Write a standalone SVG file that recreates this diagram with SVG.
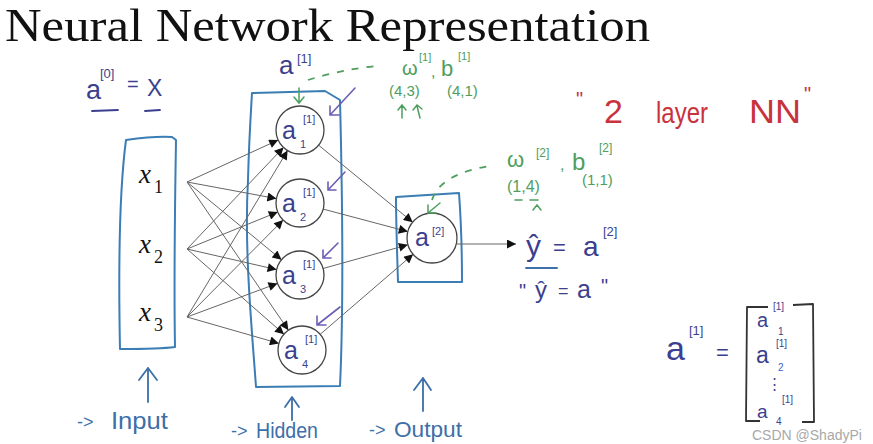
<svg xmlns="http://www.w3.org/2000/svg" width="873" height="444" viewBox="0 0 873 444">
<defs>
<style>
.box{fill:none;stroke:#3b7db5;stroke-width:2;stroke-linejoin:round}
.nd{fill:#fff;stroke:#444;stroke-width:1.3}
.ln{stroke:#666;stroke-width:1;fill:none}
.hw{font-family:"Liberation Sans",Arial,sans-serif;fill:#3c3f8f}
.gr{font-family:"Liberation Sans",Arial,sans-serif;fill:#4e9e5e}
.rd{font-family:"Liberation Sans",Arial,sans-serif;fill:#c8323c}
.bl{font-family:"Liberation Sans",Arial,sans-serif;fill:#3d6fa8}
.xs{font-family:"Liberation Serif","Times New Roman",serif;fill:#111}
.pa{stroke:#6a5fb5;stroke-width:1.6;fill:none;stroke-linecap:round}
.ga{stroke:#4e9e5e;stroke-width:1.5;fill:none;stroke-linecap:round}
.ba{stroke:#3d6fa8;stroke-width:1.8;fill:none;stroke-linecap:round;stroke-linejoin:round}
.dash{stroke:#4e9e5e;stroke-width:1.8;fill:none;stroke-dasharray:7 8}
</style>
<marker id="ah" viewBox="0 0 10 10" refX="10" refY="5" markerWidth="11" markerHeight="9" markerUnits="userSpaceOnUse" orient="auto"><path d="M0,0 L10,5 L0,10 Z" fill="#111"/></marker>
</defs>
<rect width="873" height="444" fill="#fff"/>

<text x="5" y="41" font-family="Liberation Serif,'Times New Roman',serif" font-size="46" fill="#111" textLength="645" lengthAdjust="spacingAndGlyphs">Neural Network Representation</text>

<g id="input-box">
<path class="box" d="M126,140 C140,138 160,136 172,137 L176,140 C175,200 174,290 175,347 C160,349 140,349 120,349 C119,300 118,200 126,140 Z"/>
</g>
<g id="x1"><text class="xs" font-size="27" font-style="italic" x="139" y="183">x<tspan font-size="18" font-style="normal" x="154" y="193">1</tspan></text></g>
<g id="x2"><text class="xs" font-size="27" font-style="italic" x="139" y="253">x<tspan font-size="18" font-style="normal" x="154" y="263">2</tspan></text></g>
<g id="x3"><text class="xs" font-size="27" font-style="italic" x="139" y="321">x<tspan font-size="18" font-style="normal" x="154" y="331">3</tspan></text></g>

<g id="hidden-box">
<path class="box" d="M252,93 L325,91 L340,100 C342,180 344,300 340,386 L256,387 C252,330 244,250 248,180 C249,140 251,110 252,93 Z"/>
</g>

<g id="output-box">
<path class="box" d="M396,197 L459,193 C461,220 462,260 462,282 L398,282 C397,250 396,220 396,197 Z"/>
</g>

<g id="connectors">
<line class="ln" x1="187" y1="182" x2="278.2" y2="140" marker-end="url(#ah)"/>
<line class="ln" x1="187" y1="249" x2="283.5" y2="147.4" marker-end="url(#ah)"/>
<line class="ln" x1="187" y1="317" x2="287.6" y2="150.5" marker-end="url(#ah)"/>
<line class="ln" x1="187" y1="182" x2="276.4" y2="198.6" marker-end="url(#ah)"/>
<line class="ln" x1="187" y1="249" x2="277.8" y2="212" marker-end="url(#ah)"/>
<line class="ln" x1="187" y1="317" x2="283.1" y2="220" marker-end="url(#ah)"/>
<line class="ln" x1="187" y1="182" x2="281.5" y2="259.7" marker-end="url(#ah)"/>
<line class="ln" x1="187" y1="249" x2="276.6" y2="269.6" marker-end="url(#ah)"/>
<line class="ln" x1="187" y1="317" x2="277.5" y2="283.4" marker-end="url(#ah)"/>
<line class="ln" x1="187" y1="182" x2="288.4" y2="330.2" marker-end="url(#ah)"/>
<line class="ln" x1="187" y1="249" x2="284" y2="334.2" marker-end="url(#ah)"/>
<line class="ln" x1="187" y1="317" x2="278.9" y2="343.4" marker-end="url(#ah)"/>
<line class="ln" x1="318.6" y1="145.2" x2="412.7" y2="222.2" marker-end="url(#ah)"/>
<line class="ln" x1="323.2" y1="209.1" x2="407.8" y2="231.6" marker-end="url(#ah)"/>
<line class="ln" x1="323.1" y1="268.5" x2="407.9" y2="244.8" marker-end="url(#ah)"/>
<line class="ln" x1="320.2" y1="334.3" x2="413.1" y2="254.3" marker-end="url(#ah)"/>
<line class="ln" x1="457" y1="244" x2="516" y2="244" marker-end="url(#ah)"/>
</g>

<g id="h1"><circle class="nd" cx="300" cy="130" r="24"/><text class="hw" font-size="25" x="282" y="139">a<tspan font-size="11" x="303" y="123">[1]</tspan><tspan font-size="11" x="300" y="148">1</tspan></text></g>
<g id="h2"><circle class="nd" cx="300" cy="203" r="24"/><text class="hw" font-size="25" x="282" y="212">a<tspan font-size="11" x="303" y="196">[1]</tspan><tspan font-size="11" x="300" y="221">2</tspan></text></g>
<g id="h3"><circle class="nd" cx="300" cy="275" r="24"/><text class="hw" font-size="25" x="282" y="284">a<tspan font-size="11" x="303" y="268">[1]</tspan><tspan font-size="11" x="300" y="293">3</tspan></text></g>
<g id="h4"><circle class="nd" cx="302" cy="350" r="24"/><text class="hw" font-size="25" x="284" y="359">a<tspan font-size="11" x="305" y="343">[1]</tspan><tspan font-size="11" x="302" y="368">4</tspan></text></g>
<g id="out"><circle class="nd" cx="432" cy="238" r="25"/><text class="hw" font-size="25" x="415" y="246">a<tspan font-size="11" x="432" y="235">[2]</tspan></text></g>

<g id="a0-eq">
<text class="hw" font-size="27" x="86" y="99">a<tspan font-size="13" x="100" y="78">[0]</tspan><tspan font-size="20" x="127" y="91">=</tspan><tspan font-size="23" x="147" y="96">X</tspan></text>
<path d="M92,111 L118,110 M145,111 L160,110" fill="none" stroke="#3c3f8f" stroke-width="1.8" stroke-linecap="round"/>
</g>

<g id="a1-label">
<text class="hw" font-size="26" x="279" y="74">a<tspan font-size="13" x="297" y="63">[1]</tspan></text>
<path class="dash" d="M308,80 Q340,70 376,66"/>
<path class="ga" d="M299,88 L299,102 M294,97 L299,103 L304,97"/>
</g>

<g id="hidden-arrows">
<path class="pa" d="M355,88 L330,115 M330,106 L330,115 L339,115"/>
<path class="pa" d="M345,172 L328,190 M328,182 L328,190 L336,190"/>
<path class="pa" d="M338,243 L323,258 M323,250 L323,258 L331,258"/>
<path class="pa" d="M340,307 L317,325 M317,316 L317,325 L326,325"/>
</g>

<g id="w1b1">
<text class="gr" font-size="20" x="402" y="75">ω<tspan font-size="11" x="419" y="61">[1]</tspan><tspan font-size="16" x="431" y="77">,</tspan><tspan font-size="22" x="441" y="76">b</tspan><tspan font-size="11" x="458" y="60">[1]</tspan></text>
<text class="gr" font-size="15" x="389" y="96">(4,3)<tspan x="447" y="96">(4,1)</tspan></text>
<path class="ga" d="M402,118 L402,106 M398,110 L402,105 L406,110 M420,118 L417,106 M413,110 L417,105 L422,109"/>
</g>

<g id="two-layer">
<text class="rd" font-size="20" x="576" y="106">"<tspan font-size="34" x="604" y="123">2</tspan><tspan font-size="30" x="656" y="123" textLength="52" lengthAdjust="spacingAndGlyphs">layer</tspan><tspan font-size="33" x="749" y="123" textLength="52" lengthAdjust="spacingAndGlyphs">NN</tspan><tspan font-size="20" x="804" y="101">"</tspan></text>
</g>

<g id="w2b2">
<text class="gr" font-size="22" x="507" y="167">ω<tspan font-size="12" x="536" y="157">[2]</tspan><tspan font-size="16" x="560" y="170">,</tspan><tspan font-size="24" x="572" y="170">b</tspan><tspan font-size="12" x="599" y="152">[2]</tspan></text>
<text class="gr" font-size="16" x="507" y="192">(1,4)<tspan font-size="15" x="582" y="185">(1,1)</tspan></text>
<path class="ga" d="M515,200 L522,200 M530,200 L538,200 M533,210 L537,205 L541,210"/>
<path class="dash" d="M432,200 Q440,174 490,166"/>
<path class="ga" d="M440,203 L428,213 M428,205 L428,213 L436,213"/>
</g>

<g id="yhat">
<text class="hw" font-size="30" x="526" y="256">ŷ<tspan font-size="22" x="553" y="255">=</tspan><tspan font-size="28" x="583" y="256">a</tspan><tspan font-size="13" x="603" y="236">[2]</tspan></text>
<path d="M526,268 L557,268" fill="none" stroke="#3d6fa8" stroke-width="1.8" stroke-linecap="round"/>
<text class="hw" font-size="20" x="519" y="298">"<tspan font-size="24" x="535" y="298">ŷ</tspan><tspan font-size="18" x="558" y="297">=</tspan><tspan font-size="25" x="577" y="298">a</tspan><tspan font-size="20" x="601" y="293">"</tspan></text>
</g>

<g id="a1-vector">
<text class="hw" font-size="34" x="666" y="360">a<tspan font-size="13" x="689" y="335">[1]</tspan><tspan font-size="22" x="716" y="360">=</tspan></text>
<path d="M768,307 L747,307 L746,421 L760,421 M793,305 L813,304 L814,422 L802,422" fill="none" stroke="#333" stroke-width="1.8" stroke-linejoin="round"/>
<text class="hw" font-size="20" x="757" y="327">a<tspan font-size="10" x="773" y="310">[1]</tspan><tspan font-size="10" x="778" y="335">1</tspan></text>
<text class="hw" font-size="23" x="756" y="363">a<tspan font-size="10" x="776" y="347">[1]</tspan><tspan font-size="10" x="778" y="371" style="fill:#3d5fc8">2</tspan></text>
<text class="hw" font-size="15" x="767" y="389">⋮<tspan font-size="10" x="782" y="403">[1]</tspan></text>
<text class="hw" font-size="19" x="757" y="418">a<tspan font-size="10" x="776" y="425">4</tspan></text>
</g>

<g id="label-input">
<path class="ba" d="M148,402 L148,368 M139,380 L148,368 L157,380"/>
<text class="bl" font-size="18" x="77" y="428">-&gt;<tspan font-size="24" x="111" y="429" textLength="57" lengthAdjust="spacingAndGlyphs">Input</tspan></text>
</g>
<g id="label-hidden">
<path class="ba" d="M292,420 L292,398 M285,407 L292,397 L299,407"/>
<text class="bl" font-size="18" x="231" y="437">-&gt;<tspan font-size="22" x="256" y="438" textLength="62" lengthAdjust="spacingAndGlyphs">Hidden</tspan></text>
</g>
<g id="label-output">
<path class="ba" d="M423,411 L423,378 M414,390 L423,378 L431,390"/>
<text class="bl" font-size="18" x="369" y="436">-&gt;<tspan font-size="22" x="394" y="437" textLength="68" lengthAdjust="spacingAndGlyphs">Output</tspan></text>
</g>

<text x="752" y="440" font-family="Liberation Sans,Arial,sans-serif" font-size="14" fill="#a8a8a8">CSDN @ShadyPi</text>
</svg>
